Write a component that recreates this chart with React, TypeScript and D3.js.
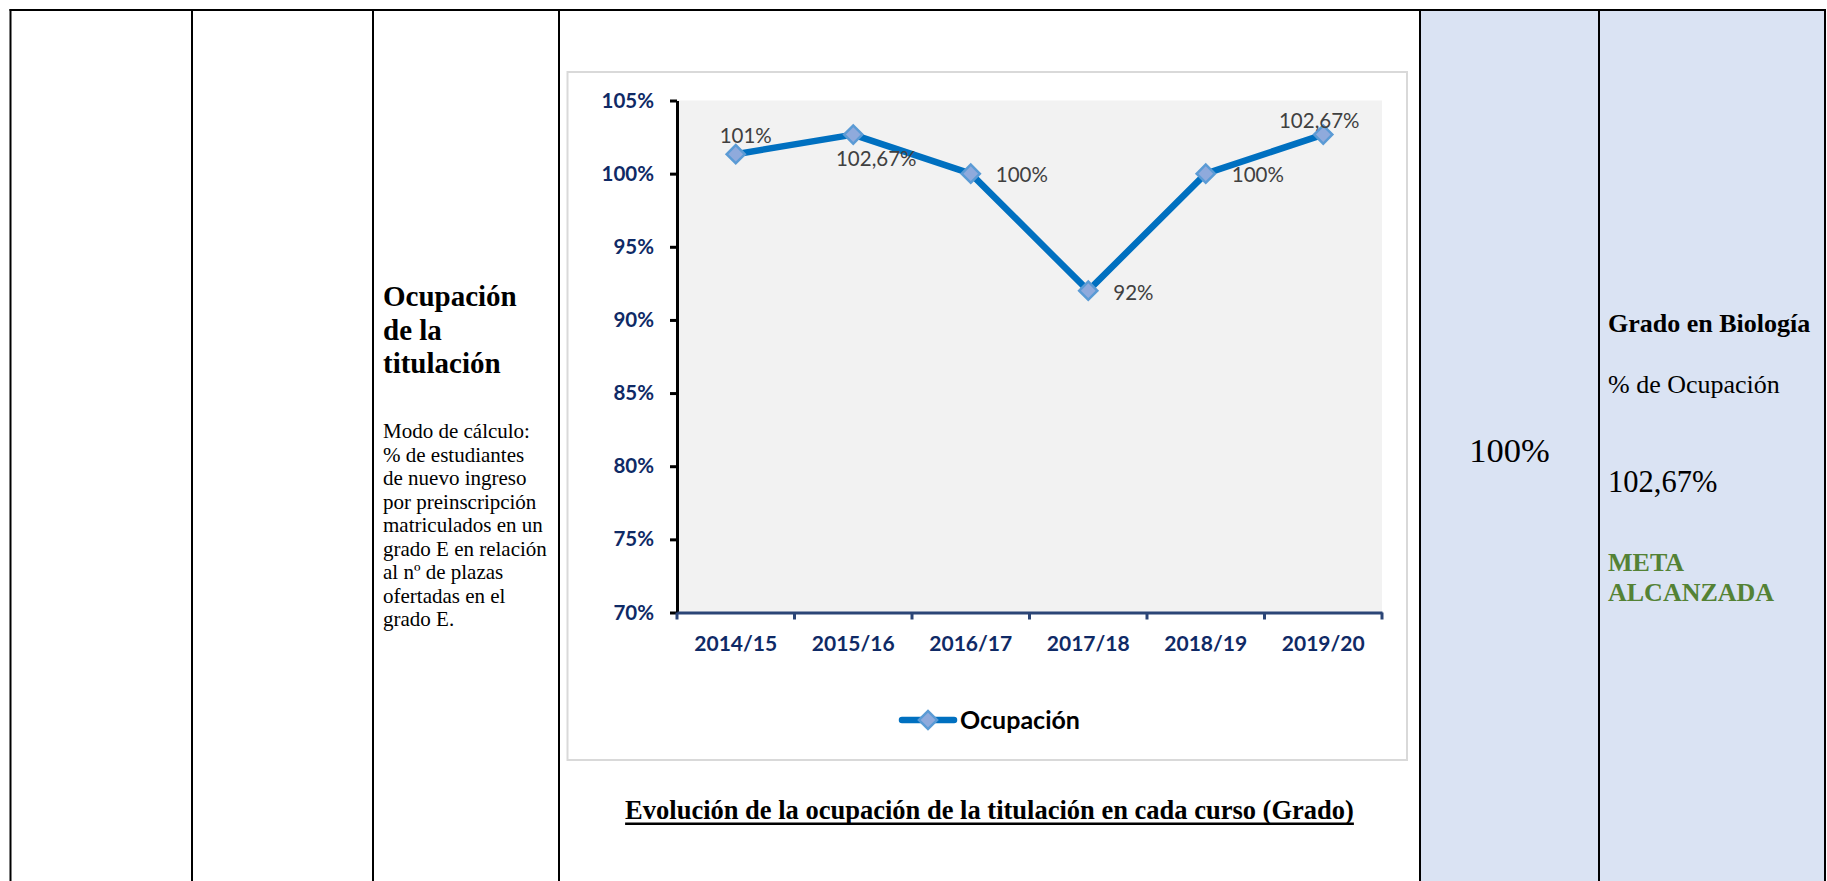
import React, { useEffect, useRef } from "react";
import * as d3 from "d3";

// chart data
const categories = ["2014/15", "2015/16", "2016/17", "2017/18", "2018/19", "2019/20"];
const ocupacion = [101.33, 102.67, 100, 92, 100, 102.67];
const valueLabels = ["101%", "102,67%", "100%", "92%", "100%", "102,67%"];
const yTicks = [70, 75, 80, 85, 90, 95, 100, 105];
const seriesName = "Ocupación";

// table texts
const indicatorTitle = ["Ocupación", "de la", "titulación"];
const indicatorNotes = [
  "Modo de cálculo:",
  "% de estudiantes",
  "de nuevo ingreso",
  "por preinscripción",
  "matriculados en un",
  "grado E en relación",
  "al nº de plazas",
  "ofertadas en el",
  "grado E.",
];
const caption = "Evolución de la ocupación de la titulación en cada curso (Grado)";
const targetValue = "100%";
const resultHeader = "Grado en Biología";
const resultName = "% de Ocupación";
const resultValue = "102,67%";
const resultStatus = ["META", "ALCANZADA"];

// label placement around each point: dx, dy, anchor
const labelOffsets: [number, number, string][] = [
  [10, -11, "middle"],
  [23, 31, "middle"],
  [25, 8, "start"],
  [25, 9, "start"],
  [26, 8, "start"],
  [-4, -7, "middle"],
];

const W = 1827;
const H = 881;
const cols = [10.5, 192, 373, 559, 1420, 1599, 1825];
const tableTop = 10;
const serif = "'Liberation Serif', 'Times New Roman', serif";
const sans = "Lato, 'Open Sans', sans-serif";

const App: React.FC = () => {
  const svgRef = useRef<SVGSVGElement | null>(null);

  useEffect(() => {
    if (!svgRef.current) return;
    const svg = d3.select(svgRef.current);
    svg.selectAll("*").remove();

    // shaded result columns
    svg.append("rect")
      .attr("x", cols[4])
      .attr("y", tableTop)
      .attr("width", cols[6] - cols[4])
      .attr("height", H - tableTop)
      .attr("fill", "#dae3f3");

    // table borders
    svg.append("line")
      .attr("x1", cols[0] - 1).attr("x2", cols[6] + 1)
      .attr("y1", tableTop).attr("y2", tableTop)
      .attr("stroke", "#000").attr("stroke-width", 2);
    svg.selectAll(".col-line")
      .data(cols)
      .enter()
      .append("line")
      .attr("class", "col-line")
      .attr("x1", (d) => d).attr("x2", (d) => d)
      .attr("y1", tableTop - 1).attr("y2", H)
      .attr("stroke", "#000").attr("stroke-width", 2);

    // indicator column
    svg.selectAll(".title-line")
      .data(indicatorTitle)
      .enter()
      .append("text")
      .attr("class", "title-line")
      .attr("x", 383)
      .attr("y", (_, i) => 306 + i * 33.5)
      .attr("font-family", serif)
      .attr("font-weight", "bold")
      .attr("font-size", 29)
      .text((d) => d);

    svg.selectAll(".note-line")
      .data(indicatorNotes)
      .enter()
      .append("text")
      .attr("class", "note-line")
      .attr("x", 383)
      .attr("y", (_, i) => 438 + i * 23.5)
      .attr("font-family", serif)
      .attr("font-size", 21)
      .text((d) => d);

    // chart area
    const chart = svg.append("g");
    chart.append("rect")
      .attr("x", 567.5).attr("y", 72)
      .attr("width", 839.5).attr("height", 688)
      .attr("fill", "#fff")
      .attr("stroke", "#d9d9d9").attr("stroke-width", 2);

    const x = d3.scaleBand().domain(categories).range([677, 1382]);
    const y = d3.scaleLinear().domain([70, 105]).range([612.5, 100.5]);

    chart.append("rect")
      .attr("x", 677).attr("y", y(105))
      .attr("width", 1382 - 677).attr("height", y(70) - y(105))
      .attr("fill", "#f2f2f2");

    // y axis
    const yAxis = chart.append("g")
      .attr("transform", "translate(677,0)")
      .call(
        d3.axisLeft(y)
          .tickValues(yTicks)
          .tickSize(7)
          .tickSizeOuter(0)
          .tickPadding(16)
          .tickFormat((d) => `${d}%`)
      );
    yAxis.select(".domain").attr("stroke", "#000").attr("stroke-width", 3);
    yAxis.selectAll(".tick line").attr("stroke", "#000").attr("stroke-width", 3);
    yAxis.selectAll(".tick text")
      .attr("fill", "#0f2a66")
      .attr("font-family", sans)
      .attr("font-weight", "bold")
      .attr("font-size", 20.5);

    // x axis
    const xAxis = chart.append("g")
      .attr("transform", `translate(0,${y(70)})`)
      .call(d3.axisBottom(x).tickSize(0).tickSizeOuter(0));
    xAxis.select(".domain").attr("stroke", "#2b4576").attr("stroke-width", 3);
    xAxis.selectAll(".tick text")
      .attr("y", 38)
      .attr("dy", 0)
      .attr("fill", "#0f2a66")
      .attr("font-family", sans)
      .attr("font-weight", "bold")
      .attr("font-size", 21);
    const bounds = categories.map((c) => x(c)!).concat([x.range()[1]]);
    xAxis.selectAll(".bound")
      .data(bounds)
      .enter()
      .append("line")
      .attr("class", "bound")
      .attr("x1", (d) => d).attr("x2", (d) => d)
      .attr("y1", 0).attr("y2", 7)
      .attr("stroke", "#2b4576").attr("stroke-width", 3);

    // series
    const cx = (i: number) => x(categories[i])! + x.bandwidth() / 2;
    const line = d3.line<number>()
      .x((_, i) => cx(i))
      .y((d) => y(d));
    chart.append("path")
      .datum(ocupacion)
      .attr("d", line)
      .attr("fill", "none")
      .attr("stroke", "#0070c0")
      .attr("stroke-width", 6.5)
      .attr("stroke-linejoin", "round");

    const diamond = d3.symbol().type(d3.symbolSquare).size(165);
    chart.selectAll(".marker")
      .data(ocupacion)
      .enter()
      .append("path")
      .attr("class", "marker")
      .attr("d", diamond)
      .attr("transform", (d, i) => `translate(${cx(i)},${y(d)}) rotate(45)`)
      .attr("fill", "#8faadc")
      .attr("stroke", "#5b9bd5")
      .attr("stroke-width", 2.5);

    chart.selectAll(".value-label")
      .data(ocupacion)
      .enter()
      .append("text")
      .attr("class", "value-label")
      .attr("x", (_, i) => cx(i) + labelOffsets[i][0])
      .attr("y", (d, i) => y(d) + labelOffsets[i][1])
      .attr("text-anchor", (_, i) => labelOffsets[i][2])
      .attr("fill", "#404040")
      .attr("font-family", sans)
      .attr("font-size", 20.5)
      .text((_, i) => valueLabels[i]);

    // legend
    const legend = chart.append("g").attr("transform", "translate(899,720)");
    legend.append("line")
      .attr("x1", 3).attr("x2", 55)
      .attr("y1", 0).attr("y2", 0)
      .attr("stroke", "#0070c0")
      .attr("stroke-width", 6.5)
      .attr("stroke-linecap", "round");
    legend.append("path")
      .attr("d", diamond)
      .attr("transform", "translate(29,0) rotate(45)")
      .attr("fill", "#8faadc")
      .attr("stroke", "#5b9bd5")
      .attr("stroke-width", 2.5);
    legend.append("text")
      .attr("x", 61)
      .attr("y", 0)
      .attr("dy", "0.35em")
      .attr("font-family", sans)
      .attr("font-weight", "bold")
      .attr("font-size", 25)
      .attr("fill", "#000")
      .text(seriesName);

    // caption with solid underline
    const capX = (cols[3] + cols[4]) / 2;
    const capText = svg.append("text")
      .attr("x", capX)
      .attr("y", 819)
      .attr("text-anchor", "middle")
      .attr("font-family", serif)
      .attr("font-weight", "bold")
      .attr("font-size", 26.5)
      .text(caption);
    const capW = (capText.node() as SVGTextElement).getComputedTextLength();
    svg.append("rect")
      .attr("x", capX - capW / 2)
      .attr("y", 822.5)
      .attr("width", capW)
      .attr("height", 2.5)
      .attr("fill", "#000");

    // target column
    svg.append("text")
      .attr("x", (cols[4] + cols[5]) / 2)
      .attr("y", 461.7)
      .attr("text-anchor", "middle")
      .attr("font-family", serif)
      .attr("font-size", 34.5)
      .text(targetValue);

    // result column
    const rx = 1608;
    svg.append("text")
      .attr("x", rx).attr("y", 332)
      .attr("font-family", serif)
      .attr("font-weight", "bold")
      .attr("font-size", 26)
      .text(resultHeader);
    svg.append("text")
      .attr("x", rx).attr("y", 392.7)
      .attr("font-family", serif)
      .attr("font-size", 26)
      .text(resultName);
    svg.append("text")
      .attr("x", rx).attr("y", 491.7)
      .attr("font-family", serif)
      .attr("font-size", 30.5)
      .text(resultValue);
    svg.selectAll(".status")
      .data(resultStatus)
      .enter()
      .append("text")
      .attr("class", "status")
      .attr("x", rx)
      .attr("y", (_, i) => 571 + i * 30)
      .attr("font-family", serif)
      .attr("font-weight", "bold")
      .attr("font-size", 26)
      .attr("fill", "#548235")
      .text((d) => d);
  }, []);

  return (
    <svg
      ref={svgRef}
      width={W}
      height={H}
      style={{ position: "absolute", left: 0, top: 0, background: "#fff" }}
    ></svg>
  );
};

export default App;
